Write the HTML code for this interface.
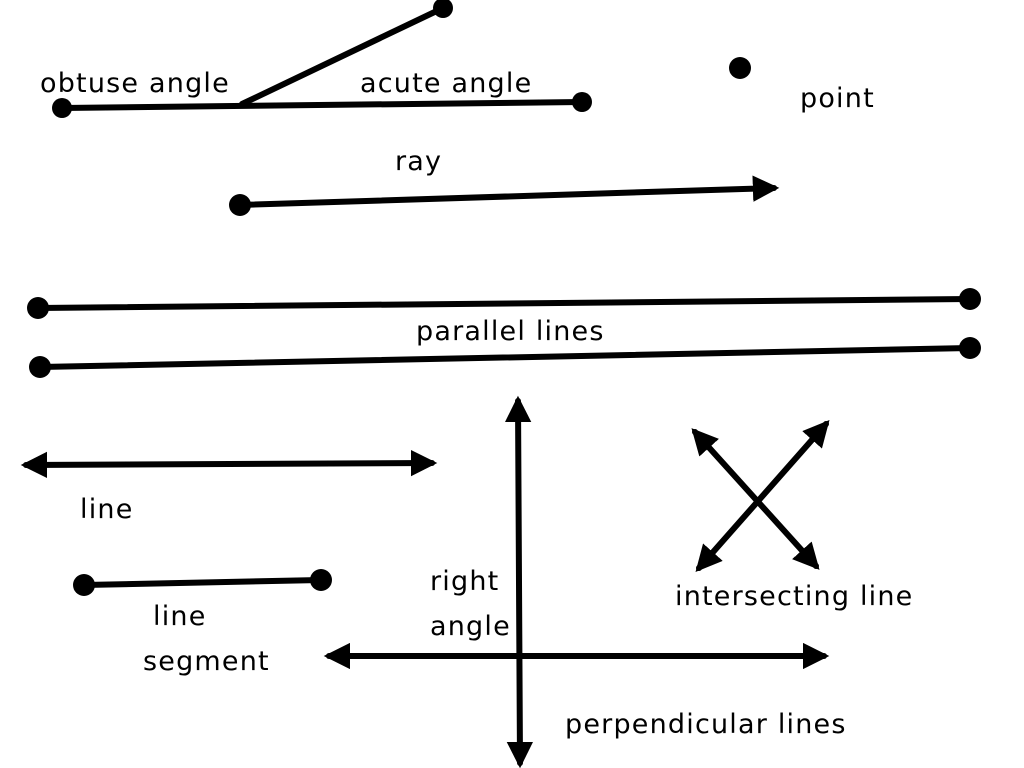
<!DOCTYPE html>
<html><head><meta charset="utf-8"><style>
html,body{margin:0;padding:0;background:#fff;}
svg{display:block}
text{font-family:"DejaVu Sans","Liberation Sans",sans-serif;font-size:27px;fill:#000;letter-spacing:1.2px;}
</style></head><body>
<svg width="1024" height="768" viewBox="0 0 1024 768" xmlns="http://www.w3.org/2000/svg">
<defs>
<marker id="a" viewBox="0 0 10 10" refX="8" refY="5" markerWidth="4.4" markerHeight="4.4" orient="auto-start-reverse" markerUnits="strokeWidth">
<path d="M0,0 L10,5 L0,10 z" fill="#000"/></marker>
</defs>
<g stroke="#000" stroke-width="6" fill="none" stroke-linecap="round">
<line x1="62" y1="108" x2="582" y2="102"/>
<line x1="242" y1="104" x2="443" y2="8"/>
<line x1="240" y1="205" x2="774" y2="188" marker-end="url(#a)"/>
<line x1="38" y1="308" x2="970" y2="299"/>
<line x1="40" y1="367" x2="970" y2="348"/>
<line x1="26" y1="465" x2="432" y2="463" marker-start="url(#a)" marker-end="url(#a)"/>
<line x1="84" y1="585" x2="321" y2="580"/>
<line x1="518" y1="401" x2="520" y2="763" marker-start="url(#a)" marker-end="url(#a)"/>
<line x1="329" y1="656" x2="824" y2="656" marker-start="url(#a)" marker-end="url(#a)"/>
<line x1="695" y1="432" x2="816" y2="566" marker-start="url(#a)" marker-end="url(#a)"/>
<line x1="826" y1="424" x2="699" y2="568" marker-start="url(#a)" marker-end="url(#a)"/>
</g>
<g fill="#000">
<circle cx="62" cy="108" r="10"/><circle cx="582" cy="102" r="10"/><circle cx="443" cy="8" r="10"/>
<circle cx="740" cy="68" r="11"/><circle cx="240" cy="205" r="11"/>
<circle cx="38" cy="308" r="11"/><circle cx="970" cy="299" r="11"/>
<circle cx="40" cy="367" r="11"/><circle cx="970" cy="348" r="11"/>
<circle cx="84" cy="585" r="11"/><circle cx="321" cy="580" r="11"/>
</g>
<text x="40" y="92">obtuse angle</text>
<text x="360" y="92">acute angle</text>
<text x="800" y="107">point</text>
<text x="395" y="170">ray</text>
<text x="416" y="340">parallel lines</text>
<text x="80" y="518">line</text>
<text x="153" y="625">line</text>
<text x="143" y="670">segment</text>
<text x="430" y="590">right</text>
<text x="430" y="635">angle</text>
<text x="675" y="605">intersecting line</text>
<text x="565" y="733">perpendicular lines</text>
</svg>
</body></html>
